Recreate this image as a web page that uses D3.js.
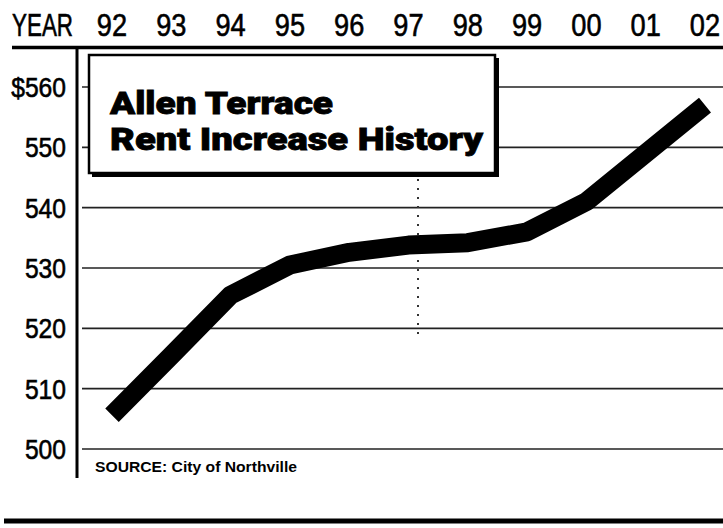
<!DOCTYPE html>
<head>
    <title>Allen Terrace Rent Increase History</title>
    <script src="https://cdn.jsdelivr.net/npm/d3@7"></script>
</head>
<style>
body {
  margin: 0;
  background: #fff;
}
svg {
  display: block;
}
.narrow {
  font-family: "Liberation Sans", Arial, sans-serif;
  stroke: #000;
  stroke-width: 0.6px;
}
</style>
<body>
    <svg></svg>
</body>

<script>

    // Data
    var years = ["92", "93", "94", "95", "96", "97", "98", "99", "00", "01", "02"];
    var rent = [505.6, 515.5, 525.5, 530.5, 532.6, 533.8, 534.2, 536, 541, 549, 557];
    var yTicks = [500, 510, 520, 530, 540, 550, 560];
    var titleLines = ["Allen Terrace", "Rent Increase History"];
    var source = "SOURCE: City of Northville";

    var width = 723;
    var height = 528;

    var svg = d3.select('svg')
        .attr('width', width)
        .attr('height', height);

    // Scales
    var x = d3.scalePoint()
        .domain(years)
        .range([112, 705]);

    var y = d3.scaleLinear()
        .domain([500, 560])
        .range([449, 87]);

    // Year header along the top (condensed by squeezing the glyphs)
    var header = svg.append('g').attr('class', 'narrow');

    header.append('text')
        .attr('x', 12)
        .attr('y', 36)
        .attr('textLength', 61)
        .attr('lengthAdjust', 'spacingAndGlyphs')
        .style('font-size', '32px')
        .text('YEAR');

    header.selectAll('.year')
        .data(years)
        .enter().append('text')
        .attr('class', 'year')
        .attr('transform', function (d) { return 'translate(' + x(d) + ',36) scale(0.85,1)'; })
        .attr('text-anchor', 'middle')
        .style('font-size', '32px')
        .text(function (d) { return d; });

    // thick rule under the years
    svg.append('line')
        .attr('x1', 12).attr('x2', width)
        .attr('y1', 47.5).attr('y2', 47.5)
        .style('stroke', '#000')
        .style('stroke-width', 3.5);

    // horizontal grid
    svg.append('g')
        .selectAll('line')
        .data(yTicks)
        .enter().append('line')
        .attr('x1', 82).attr('x2', width)
        .attr('y1', function (d) { return y(d); })
        .attr('y2', function (d) { return y(d); })
        .style('stroke', '#222')
        .style('stroke-width', 1.6);

    // y labels
    svg.append('g').attr('class', 'narrow')
        .selectAll('text')
        .data(yTicks)
        .enter().append('text')
        .attr('transform', function (d) { return 'translate(66,' + y(d) + ') scale(0.88,1)'; })
        .attr('dy', '0.36em')
        .attr('text-anchor', 'end')
        .style('font-size', '28px')
        .text(function (d) { return d === 560 ? '$' + d : d; });

    // vertical axis
    svg.append('line')
        .attr('x1', 77).attr('x2', 77)
        .attr('y1', 48).attr('y2', 478)
        .style('stroke', '#000')
        .style('stroke-width', 3);

    // fold mark from the scan
    svg.append('line')
        .attr('x1', 418).attr('x2', 418)
        .attr('y1', 98).attr('y2', 340)
        .style('stroke', '#333')
        .style('stroke-width', 2)
        .style('stroke-dasharray', '2,7');

    // the rent line
    var line = d3.line()
        .x(function (d, i) { return x(years[i]); })
        .y(function (d) { return y(d); });

    svg.append('path')
        .datum(rent)
        .attr('d', line)
        .style('fill', 'none')
        .style('stroke', '#000')
        .style('stroke-width', 19)
        .style('stroke-linejoin', 'round')
        .style('stroke-linecap', 'butt');

    // title box with a heavier right/bottom edge
    var box = svg.append('g');
    box.append('rect')
        .attr('x', 92).attr('y', 58)
        .attr('width', 407).attr('height', 119)
        .style('fill', '#000');
    box.append('rect')
        .attr('x', 89).attr('y', 55)
        .attr('width', 406).attr('height', 118)
        .style('fill', '#fff')
        .style('stroke', '#000')
        .style('stroke-width', 2.5);

    var titleWidths = [223, 373];
    box.selectAll('text')
        .data(titleLines)
        .enter().append('text')
        .attr('x', 110)
        .attr('y', function (d, i) { return 114 + i * 36; })
        .attr('textLength', function (d, i) { return titleWidths[i]; })
        .attr('lengthAdjust', 'spacingAndGlyphs')
        .style('font-family', '"Roboto", "Liberation Sans", sans-serif')
        .style('font-weight', 900)
        .style('font-size', '31px')
        .style('stroke', '#000')
        .style('stroke-width', 0.8)
        .text(function (d) { return d; });

    // source note
    svg.append('text')
        .attr('x', 95)
        .attr('y', 472)
        .attr('textLength', 202)
        .attr('lengthAdjust', 'spacingAndGlyphs')
        .style('font-family', '"Liberation Sans", sans-serif')
        .style('font-weight', 'bold')
        .style('font-size', '14px')
        .text(source);

    // bottom rule
    svg.append('line')
        .attr('x1', 4).attr('x2', width)
        .attr('y1', 521).attr('y2', 521)
        .style('stroke', '#000')
        .style('stroke-width', 5);

</script>
